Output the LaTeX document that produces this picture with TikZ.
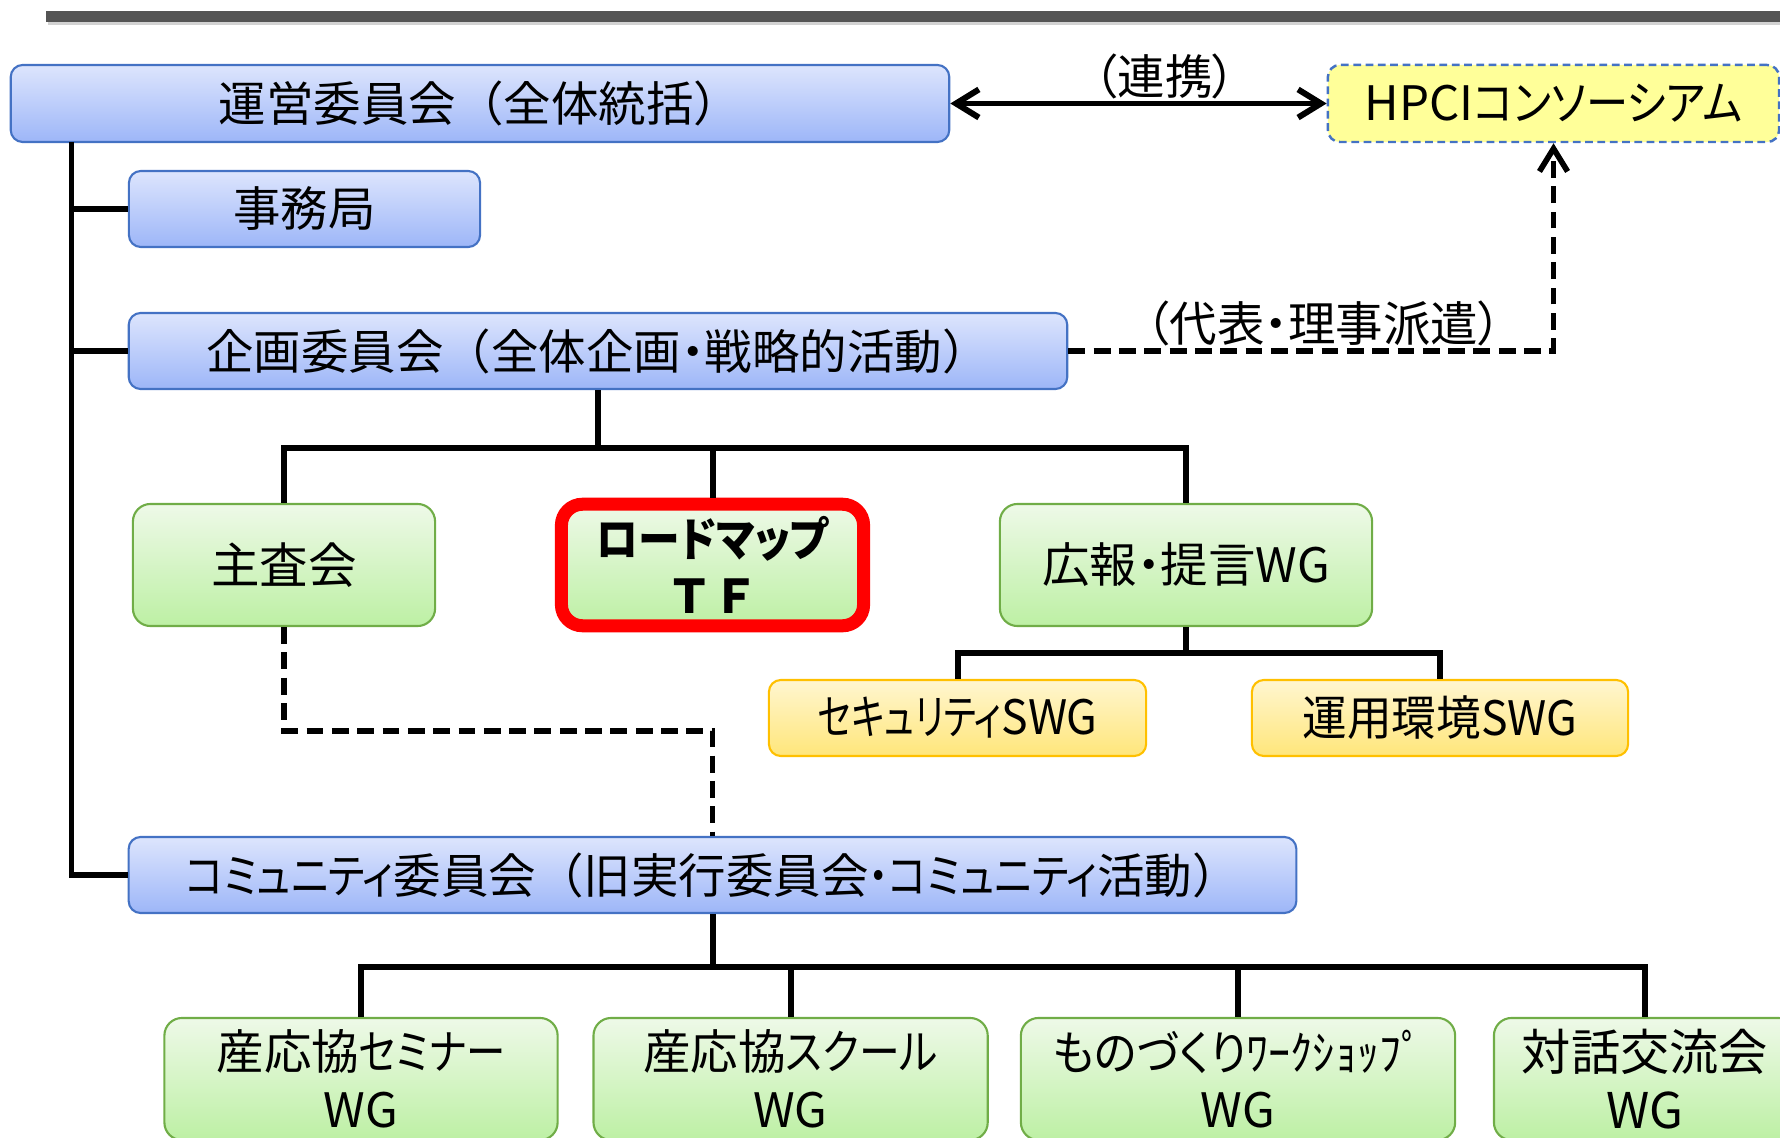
\documentclass[tikz,border=0pt]{standalone}
\usepackage{graphicx}
\usepackage{fontspec}
\setmainfont{Noto Sans CJK JP}
\newfontfamily\kanafont{Noto Sans CJK JP}[Script=Kana, CharacterWidth=AlternateProportional]
\usetikzlibrary{arrows.meta}
\newcommand\kn[2][1]{\scalebox{#1}[1]{\kanafont #2}}
\definecolor{bbord}{HTML}{4472C4}
\definecolor{btop}{HTML}{DDE5FD}
\definecolor{bbot}{HTML}{9DB6F8}
\definecolor{gbord}{HTML}{70AD47}
\definecolor{gtop}{HTML}{EEF9E8}
\definecolor{gbot}{HTML}{BDF0A4}
\definecolor{ybord}{HTML}{FFC000}
\definecolor{ytop}{HTML}{FFF6D0}
\definecolor{ybot}{HTML}{FFE67A}
\definecolor{hpci}{HTML}{FFFF99}
\definecolor{barg}{HTML}{545454}
\tikzset{
  txt/.style={font=\fontsize{13.5}{16.4}\selectfont, text=black, align=center, inner sep=0pt},
  bluebox/.style={txt, draw=bbord, line width=0.6pt, rounded corners=3.4pt, top color=btop, bottom color=bbot},
  greenbox/.style={txt, draw=gbord, line width=0.6pt, rounded corners=5pt, top color=gtop, bottom color=gbot},
  yellowbox/.style={txt, draw=ybord, line width=0.6pt, rounded corners=3.4pt, top color=ytop, bottom color=ybot},
  hpcibox/.style={txt, draw=bbord, line width=0.7pt, dash pattern=on 2.2pt off 1.3pt, rounded corners=3.4pt, fill=hpci},
  tfbox/.style={txt, draw=red, line width=3.7pt, rounded corners=6pt, top color=gtop, bottom color=gbot},
  conn/.style={line width=1.7pt, black},
  dconn/.style={line width=1.6pt, black, dash pattern=on 4.8pt off 2.4pt},
  tip/.style={arrows={-Straight Barb[length=6.5pt,width=8pt]}},
  tips/.style={arrows={Straight Barb[length=6.5pt,width=8pt]-Straight Barb[length=6.5pt,width=8pt]}},
  lbl/.style={font=\fontsize{13.5}{16.4}\selectfont, inner sep=0pt}
}
\begin{document}
\begin{tikzpicture}[x=0.01cm,y=-0.01cm]
\useasboundingbox (0,0) rectangle (1780,1137);
\fill[gray!35] (48,14) rectangle (1780,25);
\fill[barg] (46,11) rectangle (1780,22);

% nodes
\node[bluebox, minimum width=9.38cm, minimum height=0.77cm] (A) at (480,103.5) {運営委員会（全体統括）};
\node[hpcibox, minimum width=4.51cm, minimum height=0.77cm] (HP) at (1553.5,103.5) {HPCI\kn[0.89]{コンソーシアム}};
\node[bluebox, minimum width=3.51cm, minimum height=0.76cm] (B) at (304.5,209) {事務局};
\node[bluebox, minimum width=9.38cm, minimum height=0.76cm] (C) at (598,351) {企画委員会（全体企画\kn{・}戦略的活動）};
\node[greenbox, minimum width=3.02cm, minimum height=1.22cm, font=\fontsize{13.8}{16.4}\selectfont] (D) at (284,565) {主査会};
\node[tfbox, minimum width=3.02cm, minimum height=1.215cm, font=\bfseries\fontsize{13.2}{16.3}\selectfont] (E) at (712.5,565) {\kn[0.9]{ロードマップ}\\ＴＦ};
\node[greenbox, minimum width=3.72cm, minimum height=1.22cm] (F) at (1186,565) {広報\kn{・}提言WG};
\node[yellowbox, minimum width=3.77cm, minimum height=0.76cm] (G) at (957.5,718) {\kn[0.75]{セキュリティ}\scalebox{0.94}[1]{SWG}};
\node[yellowbox, minimum width=3.76cm, minimum height=0.76cm] (H) at (1440,718) {\scalebox{0.94}[1]{運用環境SWG}};
\node[bluebox, minimum width=11.67cm, minimum height=0.76cm] (I) at (712.5,875) {\kn[0.85]{コミュニティ}委員会（旧実行委員会\kn[0.85]{・コミュニティ}活動）};
\node[greenbox, minimum width=3.93cm, minimum height=1.22cm] (J) at (361,1079) {産応協\kn[0.83]{セミナー}\\WG};
\node[greenbox, minimum width=3.94cm, minimum height=1.22cm] (K) at (790.6,1079) {産応協\kn[0.86]{スクール}\\WG};
\node[greenbox, minimum width=4.34cm, minimum height=1.22cm] (L) at (1238,1079) {\kn[0.93]{ものづくりﾜｰｸｼｮｯﾌﾟ}\\WG};
\node[greenbox, minimum width=3.02cm, minimum height=1.22cm, font=\fontsize{14}{16.4}\selectfont] (M) at (1645,1079) {対話交流会\\WG};

% labels
\node[lbl] (l1) at (1165,76) {\kn{（連携）}};
\node[lbl] (l2) at (1324,323) {\kn{（}代表\kn{・}理事派遣\kn{）}};

% left trunk
\coordinate (t0) at (71.5,142);
\draw[conn] (t0) |- (I.west);
\draw[conn] (t0 |- B.west) -- (B.west);
\draw[conn] (t0 |- C.west) -- (C.west);

% link to HPCI
\draw[conn, tips] (A.east) -- (HP.west);
\draw[dconn, tip] (C.east) -| (HP.south);

% planning committee children
\draw[conn] (C.south) -- ++(0,57.5) coordinate (cb);
\draw[conn] (D.north) |- (cb) -| (F.north);
\draw[conn] (E.north |- cb) -- (E.north);

% PR WG children
\draw[conn] (F.south) -- ++(0,26) coordinate (fb);
\draw[conn] (G.north) |- (fb) -| (H.north);

% dashed link
\draw[dconn] (D.south) -- ++(0,104) -| (I.north);

% community children
\draw[conn] (I.south) -- ++(0,53) coordinate (ib);
\draw[conn] (J.north) |- (ib) -| (M.north);
\draw[conn] (K.north |- ib) -- (K.north);
\draw[conn] (L.north |- ib) -- (L.north);
\end{tikzpicture}
\end{document}
